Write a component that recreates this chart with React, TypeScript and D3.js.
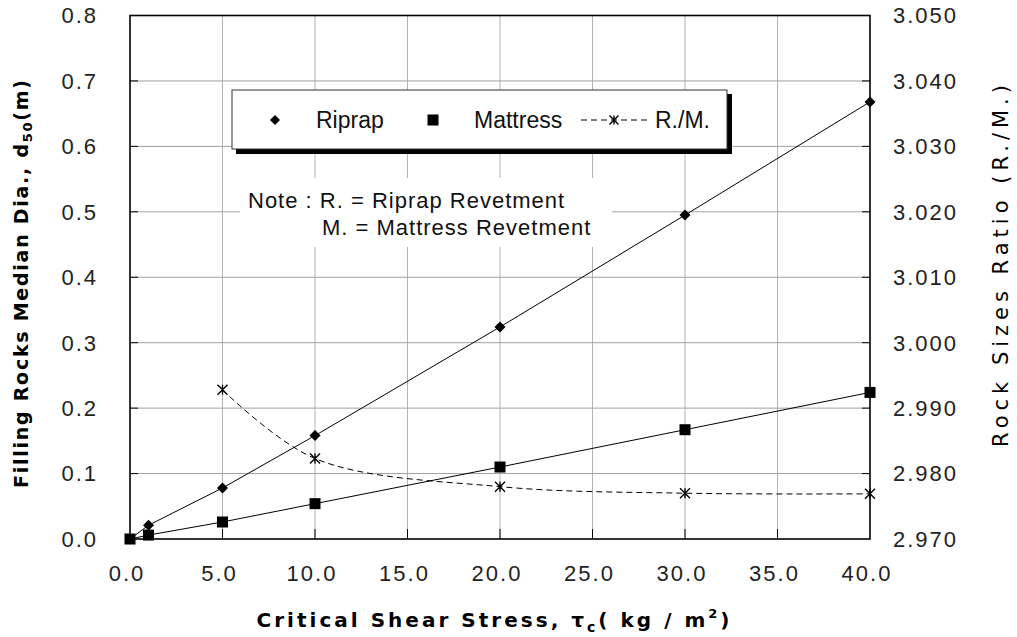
import React from "react";
import * as d3 from "d3";

// shear stress values (kg/m2)
const stress = [0, 1, 5, 10, 20, 30, 40];
const riprap = [0, 0.021, 0.078, 0.158, 0.324, 0.495, 0.668];
const mattress = [0, 0.006, 0.026, 0.054, 0.11, 0.167, 0.224];
const ratioStress = [5, 10, 20, 30, 40];
const ratio = [2.9928, 2.9823, 2.978, 2.977, 2.9769];

const xTicks = [0, 5, 10, 15, 20, 25, 30, 35, 40];
const yTicks = [0, 0.1, 0.2, 0.3, 0.4, 0.5, 0.6, 0.7, 0.8];
const y2Ticks = [2.97, 2.98, 2.99, 3.0, 3.01, 3.02, 3.03, 3.04, 3.05];

const W = 1017;
const H = 637;
const margin = { top: 15.5, right: 147, bottom: 98, left: 130 };

const tickFont = "'Liberation Sans', Arial, sans-serif";
const titleFont = "'DejaVu Sans', 'Liberation Sans', sans-serif";

function Diamond({ x, y, r = 5.5 }: { x: number; y: number; r?: number }) {
  return <path d={`M${x},${y - r}L${x + r},${y}L${x},${y + r}L${x - r},${y}Z`} fill="#000" />;
}

function Square({ x, y, s = 11 }: { x: number; y: number; s?: number }) {
  return <rect x={x - s / 2} y={y - s / 2} width={s} height={s} fill="#000" />;
}

function Star({ x, y, r = 5 }: { x: number; y: number; r?: number }) {
  return (
    <path
      d={`M${x - r},${y - r}L${x + r},${y + r}M${x - r},${y + r}L${x + r},${y - r}M${x},${y - r}L${x},${y + r}`}
      stroke="#000"
      strokeWidth={1.4}
      fill="none"
    />
  );
}

export default function App() {
  const x = d3.scaleLinear().domain([0, 40]).range([margin.left, W - margin.right]);
  const y = d3.scaleLinear().domain([0, 0.8]).range([H - margin.bottom, margin.top]);
  const y2 = d3.scaleLinear().domain([2.97, 3.05]).range([H - margin.bottom, margin.top]);

  const x0 = margin.left;
  const x1 = W - margin.right;
  const yb = H - margin.bottom;
  const yt = margin.top;

  const line = d3.line<number>().x((_, i) => x(stress[i])).y((d) => y(d));
  const ratioLine = d3
    .line<number>()
    .x((_, i) => x(ratioStress[i]))
    .y((d) => y2(d))
    .curve(d3.curveCatmullRom.alpha(0.5));

  return (
    <svg width={W} height={H} style={{ position: "absolute", left: 0, top: 0, background: "#fff" }}>
      {/* grid */}
      {xTicks.slice(1, -1).map((t) => (
        <line key={"gx" + t} x1={x(t)} x2={x(t)} y1={yt} y2={yb} stroke="#b4b4b4" strokeWidth={1} />
      ))}
      {yTicks.slice(1, -1).map((t) => (
        <line key={"gy" + t} x1={x0} x2={x1} y1={y(t)} y2={y(t)} stroke="#a0a0a0" strokeWidth={1} />
      ))}

      {/* white background behind note */}
      <rect x={240} y={178} width={372} height={69} fill="#fff" />

      {/* inner ticks */}
      {yTicks.slice(1, -1).map((t) => (
        <g key={"ty" + t}>
          <line x1={x0} x2={x0 + 8} y1={y(t)} y2={y(t)} stroke="#000" strokeWidth={1} />
          <line x1={x1 - 8} x2={x1} y1={y(t)} y2={y(t)} stroke="#000" strokeWidth={1} />
        </g>
      ))}
      {xTicks.slice(1, -1).map((t) => (
        <line key={"tx" + t} x1={x(t)} x2={x(t)} y1={yb - 10} y2={yb} stroke="#000" strokeWidth={1} />
      ))}

      {/* frame */}
      <rect x={x0} y={yt} width={x1 - x0} height={yb - yt} fill="none" stroke="#000" strokeWidth={1.6} />

      {/* series lines */}
      <path d={line(riprap) ?? ""} fill="none" stroke="#000" strokeWidth={1} />
      <path d={line(mattress) ?? ""} fill="none" stroke="#000" strokeWidth={1} />
      <path d={ratioLine(ratio) ?? ""} fill="none" stroke="#000" strokeWidth={1} strokeDasharray="6,4" />

      {/* markers */}
      {riprap.map((d, i) => (
        <Diamond key={"r" + i} x={x(stress[i])} y={y(d)} />
      ))}
      {mattress.map((d, i) => (
        <Square key={"m" + i} x={x(stress[i])} y={y(d)} />
      ))}
      {ratio.map((d, i) => (
        <Star key={"s" + i} x={x(ratioStress[i])} y={y2(d)} />
      ))}

      {/* tick labels */}
      <g fontFamily={tickFont} fontSize={22} fill="#222" letterSpacing={2}>
        {yTicks.map((t) => (
          <text key={"ly" + t} x={98} y={y(t)} dy="0.36em" textAnchor="end">
            {d3.format(".1f")(t)}
          </text>
        ))}
        {y2Ticks.map((t) => (
          <text key={"ly2" + t} x={893} y={y2(t)} dy="0.36em" textAnchor="start">
            {d3.format(".3f")(t)}
          </text>
        ))}
        {xTicks.map((t) => (
          <text key={"lx" + t} x={x(t) - 3} y={573} dy="0.36em" textAnchor="middle">
            {d3.format(".1f")(t)}
          </text>
        ))}
      </g>

      {/* axis titles */}
      <text
        x={493}
        y={627}
        textAnchor="middle"
        fontFamily={titleFont}
        fontWeight="bold"
        fontSize={20}
        textLength={473}
        lengthAdjust="spacing"
      >
        Critical Shear Stress,  τ<tspan fontSize={14} dy={5}>c</tspan>
        <tspan dy={-5}>( kg / m</tspan>
        <tspan fontSize={13} dy={-9}>2</tspan>
        <tspan dy={9}>)</tspan>
      </text>
      <text
        transform={`translate(28,284) rotate(-90)`}
        textAnchor="middle"
        fontFamily={titleFont}
        fontWeight="bold"
        fontSize={19}
        textLength={408}
        lengthAdjust="spacing"
      >
        Filling Rocks Median Dia.,  d<tspan fontSize={13} dy={4}>50</tspan>
        <tspan dy={-4}>(m)</tspan>
      </text>
      <text
        transform={`translate(1008,266) rotate(-90)`}
        textAnchor="middle"
        fontFamily={titleFont}
        fontSize={21}
        textLength={362}
        lengthAdjust="spacing"
      >
        Rock Sizes Ratio (R./M.)
      </text>

      {/* legend */}
      <rect x={236} y={94} width={496} height={60} fill="#000" />
      <rect x={232} y={90} width={495} height={59} fill="#fff" stroke="#333" strokeWidth={1} />
      <g fontFamily={tickFont} fontSize={23} fill="#111">
        <Diamond x={275} y={120} r={5} />
        <text x={316} y={120} dy="0.36em">Riprap</text>
        <Square x={433} y={120} s={11} />
        <text x={474} y={120} dy="0.36em">Mattress</text>
        <line x1={581} x2={650} y1={120} y2={120} stroke="#000" strokeWidth={1} strokeDasharray="6,4" />
        <Star x={614} y={120} r={4.5} />
        <text x={655} y={120} dy="0.36em">R./M.</text>
      </g>

      {/* note */}
      <g fontFamily={tickFont} fontSize={22} fill="#111" letterSpacing={1}>
        <text x={248} y={200} dy="0.36em">Note : R. = Riprap Revetment</text>
        <text x={322} y={227} dy="0.36em">M. = Mattress Revetment</text>
      </g>
    </svg>
  );
}
